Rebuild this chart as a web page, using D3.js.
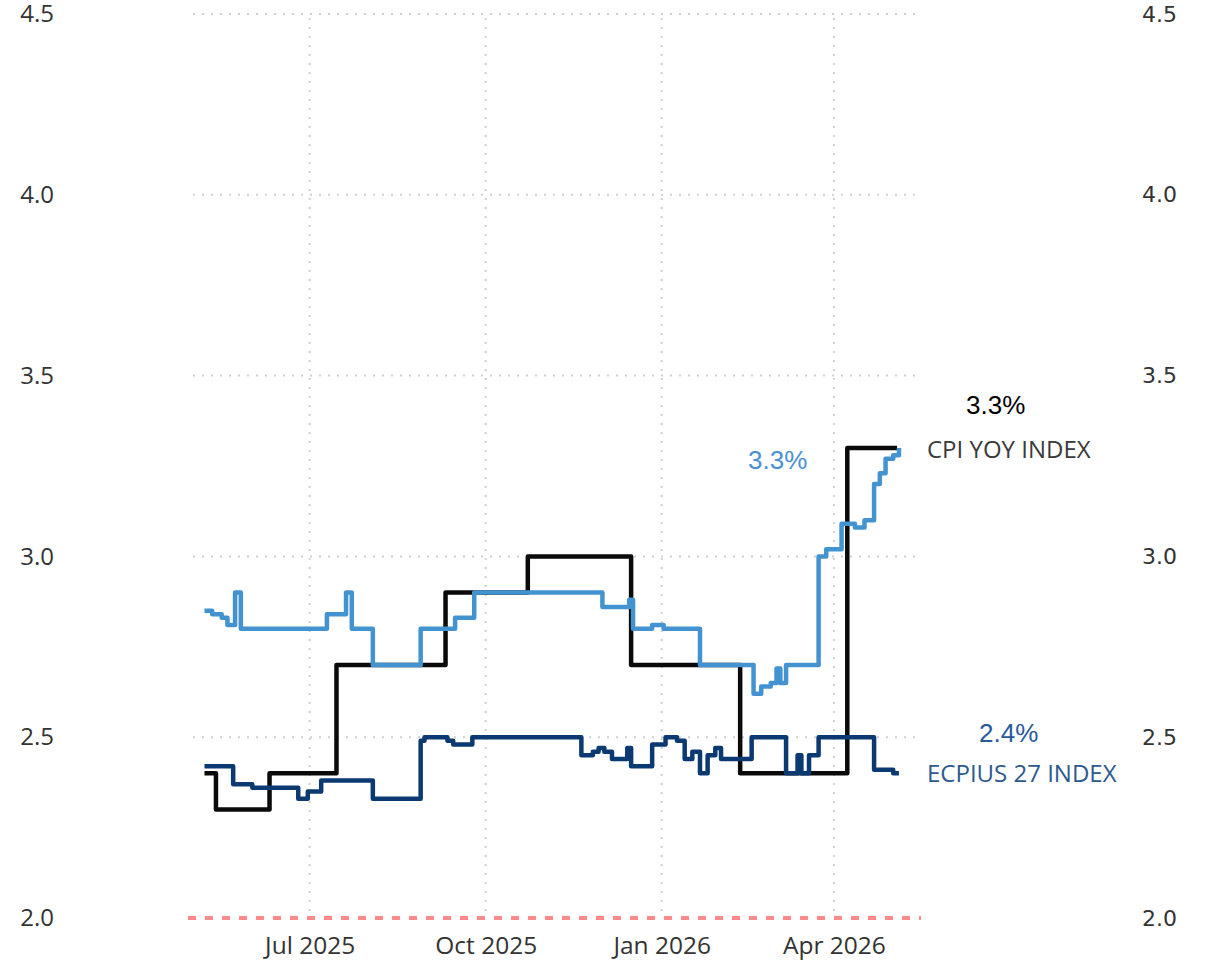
<!DOCTYPE html>
<html>
<head>
<meta charset="utf-8">
<script src="https://cdn.jsdelivr.net/npm/d3@7"></script>
<style>
    body { margin: 0; background: #fff; }
    .tick line { display: none; }
</style>
</head>
<body>
<div id="chart"></div>
<script>
// CPI YOY INDEX (black step line)
const cpiDates = ["2025-05-07", "2025-05-13", "2025-06-10", "2025-07-15", "2025-09-10", "2025-10-23", "2025-12-16", "2026-02-11", "2026-04-08", "2026-05-04"];
const cpiValues = [2.4, 2.3, 2.4, 2.7, 2.9, 3.0, 2.7, 2.4, 3.3, 3.3];

// light blue series
const blueDates = ["2025-05-07", "2025-05-11", "2025-05-16", "2025-05-19", "2025-05-23", "2025-05-26",
    "2025-07-10", "2025-07-20", "2025-07-23", "2025-08-03", "2025-08-28", "2025-09-15", "2025-09-25",
    "2025-12-01", "2025-12-15", "2025-12-17", "2025-12-27", "2026-01-02", "2026-01-21",
    "2026-02-18", "2026-02-22", "2026-02-27", "2026-03-02", "2026-03-04", "2026-03-07",
    "2026-03-24", "2026-03-28", "2026-04-05", "2026-04-12", "2026-04-17", "2026-04-22", "2026-04-25", "2026-04-28", "2026-05-02", "2026-05-05"];
const blueValues = [2.85, 2.84, 2.83, 2.81, 2.90, 2.80,
    2.84, 2.90, 2.80, 2.70, 2.80, 2.83, 2.90,
    2.86, 2.88, 2.80, 2.81, 2.80, 2.70,
    2.62, 2.64, 2.65, 2.69, 2.65, 2.70,
    3.00, 3.02, 3.09, 3.08, 3.10, 3.20, 3.23, 3.27, 3.28, 3.30];

// ECPIUS 27 INDEX (dark blue)
const ecpiDates = ["2025-05-07", "2025-05-22", "2025-06-01", "2025-06-25", "2025-06-30", "2025-07-07",
    "2025-08-03", "2025-08-28", "2025-08-30", "2025-09-11", "2025-09-14", "2025-09-24",
    "2025-11-20", "2025-11-26", "2025-11-29", "2025-12-02", "2025-12-06", "2025-12-14", "2025-12-16", "2025-12-27",
    "2026-01-03", "2026-01-09", "2026-01-13", "2026-01-17", "2026-01-21", "2026-01-25", "2026-01-29", "2026-02-01",
    "2026-02-17", "2026-03-07", "2026-03-13", "2026-03-15", "2026-03-19", "2026-03-24",
    "2026-04-22", "2026-05-02", "2026-05-05"];
const ecpiValues = [2.42, 2.37, 2.36, 2.33, 2.35, 2.38,
    2.33, 2.49, 2.50, 2.49, 2.48, 2.50,
    2.45, 2.46, 2.47, 2.46, 2.44, 2.47, 2.42, 2.48,
    2.50, 2.49, 2.44, 2.46, 2.40, 2.45, 2.47, 2.44,
    2.50, 2.40, 2.45, 2.40, 2.45, 2.50,
    2.41, 2.40, 2.40];

// ticks
const yTicks = [2.0, 2.5, 3.0, 3.5, 4.0, 4.5];
const xTicks = ["2025-07-01", "2025-10-01", "2026-01-01", "2026-04-01"];
const xTickLabels = ["Jul 2025", "Oct 2025", "Jan 2026", "Apr 2026"];

const parse = d3.timeParse("%Y-%m-%d");
const zip = (dates, values) => dates.map((d, i) => ({date: parse(d), value: values[i]}));

// set the dimensions and margins of the graph
const W = 1205, H = 962;
const margin = {top: 14, left: 193},
    width = 727,
    height = 904;

const svg = d3.select("#chart")
    .append("svg")
    .attr("width", W)
    .attr("height", H);

const g = svg.append("g")
    .attr("transform", `translate(${margin.left},${margin.top})`);

const x = d3.scaleTime()
    .domain([parse("2025-05-01"), parse("2026-05-16")])
    .range([0, width]);
const y = d3.scaleLinear()
    .domain([2, 4.5])
    .range([height, 0]);

// grid
g.append("g")
    .selectAll("line")
    .data(yTicks.filter(t => t > 2))
    .enter()
    .append("line")
    .attr("x1", 0)
    .attr("x2", width + 1)
    .attr("y1", d => y(d))
    .attr("y2", d => y(d))
    .attr("stroke", "#cfcfcf")
    .attr("stroke-width", 2)
    .attr("stroke-dasharray", "2,7");

g.append("g")
    .selectAll("line")
    .data(xTicks)
    .enter()
    .append("line")
    .attr("x1", d => x(parse(d)))
    .attr("x2", d => x(parse(d)))
    .attr("y1", y(4.5) + 4)
    .attr("y2", y(2))
    .attr("stroke", "#cfcfcf")
    .attr("stroke-width", 2)
    .attr("stroke-dasharray", "2,7");

// red dashed line at 2.0
g.append("line")
    .attr("x1", -5)
    .attr("x2", width + 1)
    .attr("y1", y(2))
    .attr("y2", y(2))
    .attr("stroke", "#ff8a8a")
    .attr("stroke-width", 4)
    .attr("stroke-dasharray", "8,9");

// axes
const leftAxis = svg.append("g")
    .attr("transform", `translate(54,${margin.top})`)
    .call(d3.axisLeft(y).tickValues(yTicks).tickFormat(d3.format(".1f")).tickSize(0).tickPadding(0));
leftAxis.select(".domain").remove();
leftAxis.selectAll("text")
    .style("font-family", "'Open Sans', sans-serif")
    .style("font-size", "24px")
    .attr("fill", "#333");

const rightAxis = svg.append("g")
    .attr("transform", `translate(1142,${margin.top})`)
    .call(d3.axisRight(y).tickValues(yTicks).tickFormat(d3.format(".1f")).tickSize(0).tickPadding(0));
rightAxis.select(".domain").remove();
rightAxis.selectAll("text")
    .style("font-family", "'DejaVu Sans', sans-serif")
    .style("font-size", "22px")
    .attr("fill", "#333");

const bottomAxis = svg.append("g")
    .attr("transform", `translate(${margin.left},${margin.top + height})`)
    .call(d3.axisBottom(x).tickValues(xTicks.map(parse)).tickFormat((d, i) => xTickLabels[i]).tickSize(0).tickPadding(19));
bottomAxis.select(".domain").remove();
bottomAxis.selectAll("text")
    .style("font-family", "'Open Sans', sans-serif")
    .style("font-size", "24.5px")
    .attr("fill", "#333");

// lines
const line = d3.line()
    .x(d => x(d.date))
    .y(d => y(d.value))
    .curve(d3.curveStepAfter);

const series = [
    {data: zip(cpiDates, cpiValues), color: "#0a0a0a"},
    {data: zip(ecpiDates, ecpiValues), color: "#0b3a72"},
    {data: zip(blueDates, blueValues), color: "#4393d1"}
];

g.selectAll("path.series")
    .data(series)
    .enter()
    .append("path")
    .attr("class", "series")
    .attr("d", s => line(s.data))
    .attr("fill", "none")
    .attr("stroke", s => s.color)
    .attr("stroke-width", 4.5)
    .attr("stroke-linejoin", "round");

// labels
const lastCpi = cpiValues[cpiValues.length - 1],
    lastBlue = blueValues[blueValues.length - 1],
    lastEcpi = ecpiValues[ecpiValues.length - 1];

const labels = [
    {text: lastCpi.toFixed(1) + "%", x: 966, y: y(lastCpi) - 34, color: "#000", font: "'Liberation Sans', Arial, sans-serif", size: 26},
    {text: "CPI YOY INDEX", x: 927, y: y(lastCpi) + 10, color: "#3a3a3a", font: "'Open Sans', sans-serif", size: 24},
    {text: lastBlue.toFixed(1) + "%", x: 748, y: y(lastBlue) + 21, color: "#4a90d6", font: "'Liberation Sans', Arial, sans-serif", size: 26},
    {text: lastEcpi.toFixed(1) + "%", x: 979, y: y(lastEcpi) - 31, color: "#27599c", font: "'Liberation Sans', Arial, sans-serif", size: 26},
    {text: "ECPIUS 27 INDEX", x: 927, y: y(lastEcpi) + 9, color: "#2c5a8f", font: "'Open Sans', sans-serif", size: 24}
];

svg.append("g")
    .attr("transform", `translate(0,${margin.top})`)
    .selectAll("text")
    .data(labels)
    .enter()
    .append("text")
    .attr("x", d => d.x)
    .attr("y", d => d.y)
    .attr("fill", d => d.color)
    .style("font-family", d => d.font)
    .style("font-size", d => d.size + "px")
    .text(d => d.text);
</script>
</body>
</html>
